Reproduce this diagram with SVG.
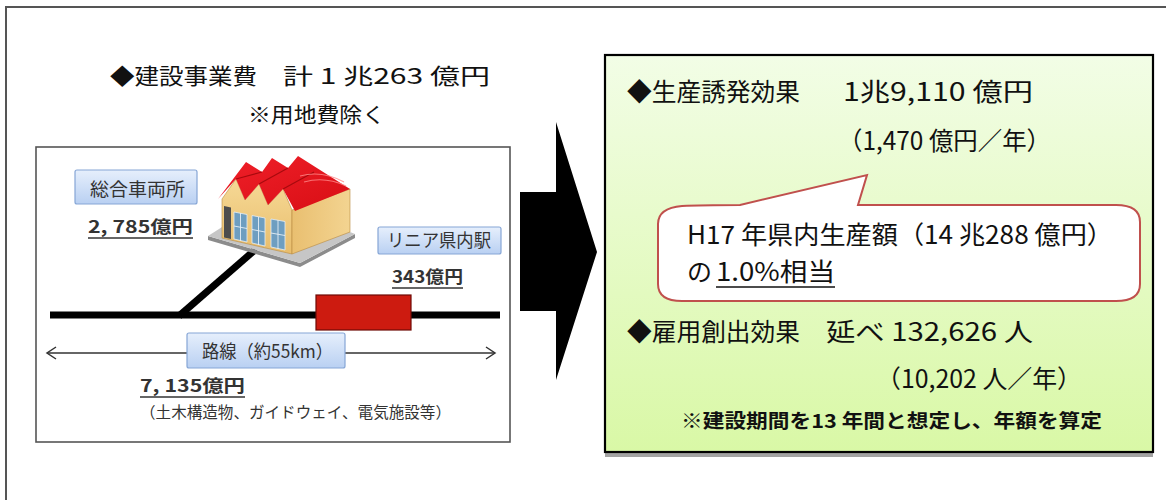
<svg xmlns="http://www.w3.org/2000/svg" width="1166" height="500" viewBox="0 0 1166 500">
  <defs>
    <linearGradient id="labelFill" x1="0" y1="0" x2="0" y2="1">
      <stop offset="0" stop-color="#e6effc"/>
      <stop offset="1" stop-color="#b9d0f2"/>
    </linearGradient>
    <linearGradient id="effectFill" x1="0" y1="0" x2="0" y2="1">
      <stop offset="0" stop-color="#f2fde6"/>
      <stop offset="1" stop-color="#d9f8a6"/>
    </linearGradient>
    <linearGradient id="frontWall" x1="0" y1="0" x2="0" y2="1">
      <stop offset="0" stop-color="#f6d996"/>
      <stop offset="1" stop-color="#e8bd6c"/>
    </linearGradient>
    <linearGradient id="sideWall" x1="0" y1="0" x2="1" y2="0">
      <stop offset="0" stop-color="#e9bf70"/>
      <stop offset="1" stop-color="#f3d491"/>
    </linearGradient>
    <linearGradient id="roofRed" x1="0" y1="0" x2="1" y2="1">
      <stop offset="0" stop-color="#f0202a"/>
      <stop offset="1" stop-color="#d80e14"/>
    </linearGradient>
  </defs>
  <style>
    .jp { font-family: "Noto Sans CJK JP", "Liberation Sans", sans-serif; }
    .big { font-size: 25px; fill: #111; }
    .lbl { font-size: 18px; fill: #333; }
    .cost { font-size: 17px; font-weight: bold; fill: #333; }
    .label-box { fill: url(#labelFill); stroke: #86a6d6; stroke-width: 1.2; }
    .uline { stroke: #333; stroke-width: 1.5; }
    .win { fill: #6e9ec0; stroke: #e4eef6; stroke-width: 0.8; }
  </style>

  <rect width="1166" height="500" fill="#ffffff"/>

  <!-- page frame -->
  <path d="M6,500 V7 H1166" fill="none" stroke="#555" stroke-width="2"/>

  <!-- heading -->
  <g id="heading" class="jp">
    <text x="110" y="84" font-size="22" fill="#111" textLength="147" lengthAdjust="spacingAndGlyphs">◆建設事業費</text>
    <text x="283" y="84" font-size="22" fill="#111" textLength="207" lengthAdjust="spacingAndGlyphs">計 1 兆263 億円</text>
    <text x="248" y="122" font-size="21" fill="#111" textLength="137" lengthAdjust="spacingAndGlyphs">※用地費除く</text>
  </g>

  <!-- route map panel -->
  <g id="route-panel">
    <rect x="36" y="147" width="474" height="295" fill="#fff" stroke="#555" stroke-width="1.6"/>
  </g>

  <!-- lines of the route map -->
  <g id="connectors">
    <line x1="179" y1="316" x2="256" y2="249" stroke="#000" stroke-width="7"/>
    <line x1="50" y1="315" x2="500" y2="315" stroke="#000" stroke-width="7"/>
    <line x1="47" y1="353" x2="495" y2="353" stroke="#333" stroke-width="1.5"/>
    <path d="M56,347 L47,353 L56,359 M486,347 L495,353 L486,359" fill="none" stroke="#333" stroke-width="1.5"/>
  </g>

  <!-- rolling stock depot -->
  <g id="depot">
    <polygon points="208,236 300,263 355,234 355,238 300,267 208,240" fill="#8c8c8c"/>
    <polygon points="208,236 300,263 355,234 300,212 230,222" fill="#c6c6c6"/>
    <polygon points="222,199 236,179 245,200 259,184 268,205 283,189 292,210 292,254 222,238" fill="url(#frontWall)" stroke="#b88a40" stroke-width="0.6"/>
    <polygon points="292,210 350,189 350,232 292,254" fill="url(#sideWall)" stroke="#b88a40" stroke-width="0.6"/>
    <polygon points="224,206 231,207.5 231,239 224,237.5" fill="#4d4d4d"/>
    <polygon class="win" points="234,212 247,214.5 247,242 234,239"/>
    <polygon class="win" points="252,215.5 265,218 265,246 252,243"/>
    <polygon class="win" points="271,219 285,221.5 285,250 271,247"/>
    <path d="M240.5,213 V241 M234,226 L247,228.5 M258.5,217 V245 M252,229.5 L265,232 M278,220 V249 M271,233 L285,235.5" stroke="#e4eef6" stroke-width="0.9"/>
    <polygon points="218,199 246,162 262,172 272,158 288,168 298,156 350,189 295,211 283,189 268,205 259,184 245,200 236,179" fill="url(#roofRed)"/>
    <path d="M236,179 L262,172 M259,184 L288,168 M283,189 L314,172" stroke="#a80a0e" stroke-width="1.2" fill="none"/>
    <path d="M300,176 Q322,170 344,182 M304,182 Q325,176 346,186" stroke="#ff8a8a" stroke-width="1.2" fill="none" opacity="0.8"/>
  </g>

  <g id="depot-label" class="jp">
    <rect class="label-box" x="75" y="170" width="122" height="34" rx="2"/>
    <text class="lbl" x="90" y="196" textLength="95" lengthAdjust="spacingAndGlyphs">総合車両所</text>
    <text class="cost" x="88" y="233" textLength="105" lengthAdjust="spacingAndGlyphs">2, 785億円</text>
    <line class="uline" x1="88" y1="238" x2="193" y2="238"/>
  </g>

  <!-- station -->
  <g id="station" class="jp">
    <rect x="316" y="295" width="95" height="35" fill="#cd1b10" stroke="#6e0a05" stroke-width="1.2"/>
    <rect class="label-box" x="378" y="227" width="123" height="27" rx="2"/>
    <text class="lbl" x="387" y="247" font-size="17" textLength="104" lengthAdjust="spacingAndGlyphs">リニア県内駅</text>
    <text class="cost" x="392" y="283" textLength="71" lengthAdjust="spacingAndGlyphs">343億円</text>
    <line class="uline" x1="392" y1="288" x2="463" y2="288"/>
  </g>

  <!-- route length -->
  <g id="route" class="jp">
    <rect class="label-box" x="187" y="333" width="158" height="35" rx="2"/>
    <text class="lbl" x="202" y="358" font-size="19" textLength="131" lengthAdjust="spacingAndGlyphs">路線（約55km）</text>
    <text class="cost" x="140" y="392" textLength="105" lengthAdjust="spacingAndGlyphs">7, 135億円</text>
    <line class="uline" x1="140" y1="397" x2="245" y2="397"/>
    <text x="140" y="418" font-size="15.5" fill="#333" textLength="311" lengthAdjust="spacingAndGlyphs">（土木構造物、ガイドウェイ、電気施設等）</text>
  </g>

  <!-- block arrow -->
  <g id="arrow">
    <polygon points="520,192 556,192 556,122 597,252 556,380 556,311 520,311" fill="#000"/>
  </g>

  <!-- economic effect panel -->
  <g id="effects" class="jp">
    <rect x="605" y="59" width="548" height="398" fill="#a3a3a3"/>
    <rect x="605" y="55" width="548" height="397" fill="url(#effectFill)" stroke="#000" stroke-width="2.2"/>
    <text class="big" x="627" y="101" textLength="173" lengthAdjust="spacingAndGlyphs">◆生産誘発効果</text>
    <text class="big" x="843" y="101" textLength="190" lengthAdjust="spacingAndGlyphs">1兆9,110 億円</text>
    <text class="big" x="838" y="150" textLength="213" lengthAdjust="spacingAndGlyphs">（1,470 億円／年）</text>
    <text class="big" x="627" y="341" textLength="173" lengthAdjust="spacingAndGlyphs">◆雇用創出効果</text>
    <text class="big" x="826" y="341" textLength="207" lengthAdjust="spacingAndGlyphs">延べ 132,626 人</text>
    <text class="big" x="876" y="388" textLength="206" lengthAdjust="spacingAndGlyphs">（10,202 人／年）</text>
    <text x="681" y="428" font-size="19" font-weight="bold" fill="#111" textLength="421" lengthAdjust="spacingAndGlyphs">※建設期間を13 年間と想定し、年額を算定</text>
  </g>

  <!-- callout -->
  <g id="callout" class="jp">
    <path d="M682,206 Q700,205 740,205 L867,175 L858,205 L1116,205 Q1140,205 1140,222 L1140,284 Q1140,301 1116,301 L682,301 Q658,301 658,284 L658,224 Q658,208 682,206 Z" fill="#fff" stroke="#c0504d" stroke-width="2"/>
    <text class="big" x="687" y="244" textLength="426" lengthAdjust="spacingAndGlyphs">H17 年県内生産額（14 兆288 億円）</text>
    <text class="big" x="687" y="281">の</text>
    <text class="big" x="716" y="281" textLength="119" lengthAdjust="spacingAndGlyphs">1.0%相当</text>
    <line x1="716" y1="287" x2="835" y2="287" stroke="#111" stroke-width="1.6"/>
  </g>
</svg>
